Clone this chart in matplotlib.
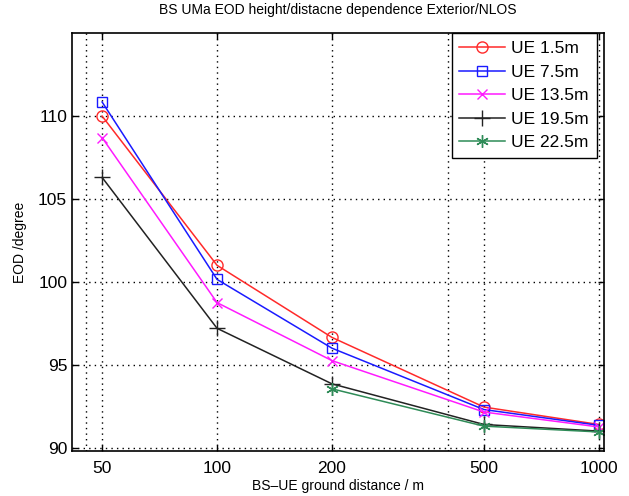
import matplotlib.pyplot as plt
from matplotlib.ticker import FixedLocator, NullFormatter

plt.rcParams['font.family'] = ['Liberation Sans', 'DejaVu Sans']

# ground distance (m)
distance = [50, 100, 200, 500, 1000]
distance_green = [200, 500, 1000]

eod_15 = [110.0, 101.0, 96.65, 92.45, 91.4]
eod_75 = [110.85, 100.15, 96.0, 92.3, 91.35]
eod_135 = [108.7, 98.75, 95.25, 92.15, 91.25]
eod_195 = [106.3, 97.2, 93.85, 91.4, 91.0]
eod_225 = [93.55, 91.3, 90.95]

xticks = [50, 100, 200, 500, 1000]
xtick_labels = ['50', '100', '200', '500', '1000']
yticks = [90, 95, 100, 105, 110]

fig = plt.figure(figsize=(6.29, 4.96), dpi=100)
ax = fig.add_axes([0.1145, 0.0907, 0.8455, 0.8423])

ax.plot(distance, eod_15, color='#ff2a2a', marker='o', markersize=8,
        markerfacecolor='none', linewidth=1.1, label='UE 1.5m')
ax.plot(distance, eod_75, color='#1a1aff', marker='s', markersize=6.5,
        markerfacecolor='none', linewidth=1.1, label='UE 7.5m')
ax.plot(distance, eod_135, color='#ff1aff', marker='x', markersize=7,
        linewidth=1.1, label='UE 13.5m')
ax.plot(distance, eod_195, color='#222222', marker='+', markersize=11,
        linewidth=1.1, label='UE 19.5m')
ax.plot(distance_green, eod_225, color='#2e8b57', marker=(6, 2, 0), markersize=9,
        linewidth=1.1, label='UE 22.5m')

ax.set_xscale('log')
ax.set_xlim(41.7, 1030)
ax.set_ylim(89.8, 115)
ax.xaxis.set_major_locator(FixedLocator(xticks))
ax.set_xticklabels(xtick_labels)
ax.xaxis.set_minor_locator(FixedLocator([45.4, 402]))
ax.xaxis.set_minor_formatter(NullFormatter())
ax.set_yticks(yticks)

ax.grid(True, which='major', linestyle=(0, (1, 3)), color='black', linewidth=1.0)
ax.grid(True, which='minor', axis='x', linestyle=(0, (1, 3)), color='black', linewidth=1.0)
ax.tick_params(which='major', direction='in', length=4, top=True, right=True,
               labelsize=12.5, width=1)
ax.tick_params(axis='x', which='major', pad=7)
ax.tick_params(which='minor', length=0)
for s in ax.spines.values():
    s.set_linewidth(1.2)

ax.set_title('BS UMa EOD height/distacne dependence Exterior/NLOS', fontsize=10, pad=14)
ax.set_xlabel('BS\u2013UE ground distance / m', fontsize=10, labelpad=2)
ax.set_ylabel('EOD /degree', fontsize=10, labelpad=8)

leg = ax.legend(loc='upper right', fontsize=12.5, fancybox=False, framealpha=1,
                edgecolor='black', handlelength=2.6, borderaxespad=0.0,
                bbox_to_anchor=(0.987, 1.0), labelspacing=0.48, handletextpad=0.4,
                borderpad=0.45)
leg.get_frame().set_linewidth(1.0)

fig.savefig('out.png', dpi=100)
